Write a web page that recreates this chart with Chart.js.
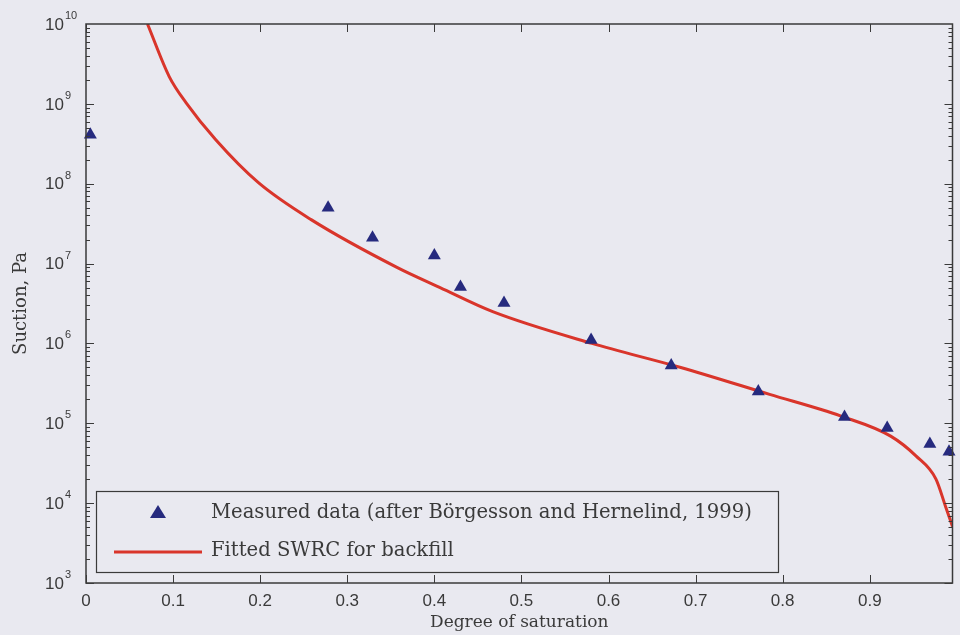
<!DOCTYPE html>
<html>
<head>
<meta charset="utf-8">
<script src="https://cdn.jsdelivr.net/npm/chart.js@4/dist/chart.umd.min.js"></script>
<style>
  html, body { margin: 0; padding: 0; background: #e9e9f0; }
  #wrap { width: 960px; height: 635px; }
</style>
</head>
<body>
<div id="wrap"><canvas id="swrc-chart" width="960" height="635"></canvas></div>
<script>
// measured points (after Borgesson and Hernelind, 1999)
var measuredSat = [0.005, 0.278, 0.329, 0.40, 0.43, 0.48, 0.58, 0.672, 0.772, 0.871, 0.92, 0.969, 0.991];
var measuredSuction = [4.1e8, 5.0e7, 2.1e7, 1.26e7, 5.1e6, 3.2e6, 1.1e6, 5.3e5, 2.5e5, 1.2e5, 8.7e4, 5.5e4, 4.4e4];

// fitted SWRC curve
var fittedSat = [0.0706, 0.0957, 0.115, 0.149, 0.198, 0.2585, 0.3576, 0.4066, 0.467, 0.581, 0.683, 0.785, 0.867, 0.924, 0.953, 0.976, 0.987, 0.995];
var fittedSuction = [1e10, 2.18e9, 1.03e9, 3.55e8, 1.03e8, 3.55e7, 8.9e6, 5.0e6, 2.5e6, 1.0e6, 5.0e5, 2.3e5, 1.23e5, 6.9e4, 3.9e4, 2.0e4, 9.1e3, 5.1e3];

var xTickValues = [0, 0.1, 0.2, 0.3, 0.4, 0.5, 0.6, 0.7, 0.8, 0.9];
var yExponents = [3, 4, 5, 6, 7, 8, 9, 10];

var legendLabels = ["Measured data (after B\u00f6rgesson and Hernelind, 1999)", "Fitted SWRC for backfill"];

var bg = "#e9e9f0";
var ink = "#3a3a3a";
var markerColor = "#262a7e";
var lineColor = "#d9352b";

document.addEventListener("DOMContentLoaded", function() {
  var ctx = document.getElementById("swrc-chart").getContext("2d");

  var toPoints = function(xs, ys) {
    var pts = [];
    for (var i = 0; i < xs.length; i++) pts.push({ x: xs[i], y: ys[i] });
    return pts;
  };

  // background fill
  var paper = {
    id: "paper",
    beforeDraw: function(chart) {
      var c = chart.ctx;
      c.save();
      c.fillStyle = bg;
      c.fillRect(0, 0, chart.width, chart.height);
      c.restore();
    }
  };

  // box, inward ticks, y labels with exponents, legend
  var matlabAxes = {
    id: "matlabAxes",
    afterDatasetsDraw: function(chart) {
      var c = chart.ctx, a = chart.chartArea;
      var xs = chart.scales.x, ys = chart.scales.y;
      c.save();
      c.strokeStyle = ink;
      c.lineWidth = 1.5;
      c.strokeRect(a.left, a.top, a.right - a.left, a.bottom - a.top);

      c.lineWidth = 1;
      c.beginPath();
      xTickValues.forEach(function(v) {
        var px = Math.round(xs.getPixelForValue(v)) + 0.5;
        c.moveTo(px, a.bottom); c.lineTo(px, a.bottom - 8);
        c.moveTo(px, a.top); c.lineTo(px, a.top + 8);
      });
      for (var e = yExponents[0]; e < yExponents[yExponents.length - 1]; e++) {
        for (var m = 1; m <= 9; m++) {
          var py = Math.round(ys.getPixelForValue(m * Math.pow(10, e))) + 0.5;
          var len = m == 1 ? 8 : 4;
          c.moveTo(a.left, py); c.lineTo(a.left + len, py);
          c.moveTo(a.right, py); c.lineTo(a.right - len, py);
        }
      }
      c.stroke();

      // y tick labels as 10 with a raised exponent
      c.fillStyle = ink;
      c.textBaseline = "middle";
      yExponents.forEach(function(ex) {
        var py = ys.getPixelForValue(Math.pow(10, ex));
        c.font = "17px 'Liberation Sans', Arial, sans-serif";
        c.textAlign = "right";
        c.fillText("10", 64, py + 1);
        c.font = "11px 'Liberation Sans', Arial, sans-serif";
        c.textAlign = "left";
        c.fillText(String(ex), 65, py - 8);
      });

      // legend box
      var lx = 96, ly = 491, lw = 682, lh = 81;
      c.fillStyle = bg;
      c.fillRect(lx, ly, lw, lh);
      c.strokeStyle = ink;
      c.lineWidth = 1.2;
      c.strokeRect(lx + 0.5, ly + 0.5, lw, lh);

      c.fillStyle = markerColor;
      c.beginPath();
      c.moveTo(158, 505); c.lineTo(166, 518); c.lineTo(150, 518);
      c.closePath();
      c.fill();

      c.strokeStyle = lineColor;
      c.lineWidth = 3;
      c.beginPath();
      c.moveTo(114, 552); c.lineTo(202, 552);
      c.stroke();

      c.fillStyle = ink;
      c.font = "19.6px 'DejaVu Serif', serif";
      c.textAlign = "left";
      c.textBaseline = "middle";
      c.fillText(legendLabels[0], 211, 513);
      c.fillText(legendLabels[1], 211, 551);
      c.restore();
    }
  };

  var swrcChart = new Chart(ctx, {
    type: "scatter",
    data: {
      datasets: [{
        label: legendLabels[0],
        data: toPoints(measuredSat, measuredSuction),
        pointStyle: "triangle",
        pointRadius: 7.5,
        pointHoverRadius: 7.5,
        backgroundColor: markerColor,
        borderColor: markerColor,
        borderWidth: 0,
        clip: false
      }, {
        type: "line",
        label: legendLabels[1],
        data: toPoints(fittedSat, fittedSuction),
        borderColor: lineColor,
        borderWidth: 3,
        pointRadius: 0,
        fill: false,
        cubicInterpolationMode: "monotone"
      }]
    },
    options: {
      responsive: false,
      animation: false,
      events: [],
      layout: { padding: { top: 24, right: 3, left: 0, bottom: 0 } },
      plugins: {
        legend: { display: false },
        tooltip: { enabled: false }
      },
      scales: {
        x: {
          type: "linear",
          min: 0,
          max: 0.995,
          afterBuildTicks: function(scale) {
            scale.ticks = xTickValues.map(function(v) { return { value: v }; });
          },
          afterFit: function(scale) { scale.height = 52; },
          grid: { display: false, drawTicks: false },
          border: { display: false },
          ticks: {
            padding: 8,
            color: ink,
            font: { family: "'Liberation Sans', Arial, sans-serif", size: 17 },
            maxRotation: 0,
            callback: function(v) { return v === 0 ? "0" : String(Math.round(v * 10) / 10); }
          },
          title: {
            display: true,
            text: "Degree of saturation",
            color: ink,
            font: { family: "'DejaVu Serif', serif", size: 17 },
            padding: { top: 0, bottom: 2 }
          }
        },
        y: {
          type: "logarithmic",
          min: 1e3,
          max: 1e10,
          afterBuildTicks: function(scale) {
            scale.ticks = yExponents.map(function(ex) { return { value: Math.pow(10, ex) }; });
          },
          afterFit: function(scale) { scale.width = 86; },
          grid: { display: false, drawTicks: false },
          border: { display: false },
          ticks: { display: false },
          title: {
            display: true,
            text: "Suction, Pa",
            color: ink,
            font: { family: "'DejaVu Serif', serif", size: 18 },
            padding: { top: 11, bottom: 0 }
          }
        }
      }
    },
    plugins: [paper, matlabAxes]
  });
});
</script>
</body>
</html>
